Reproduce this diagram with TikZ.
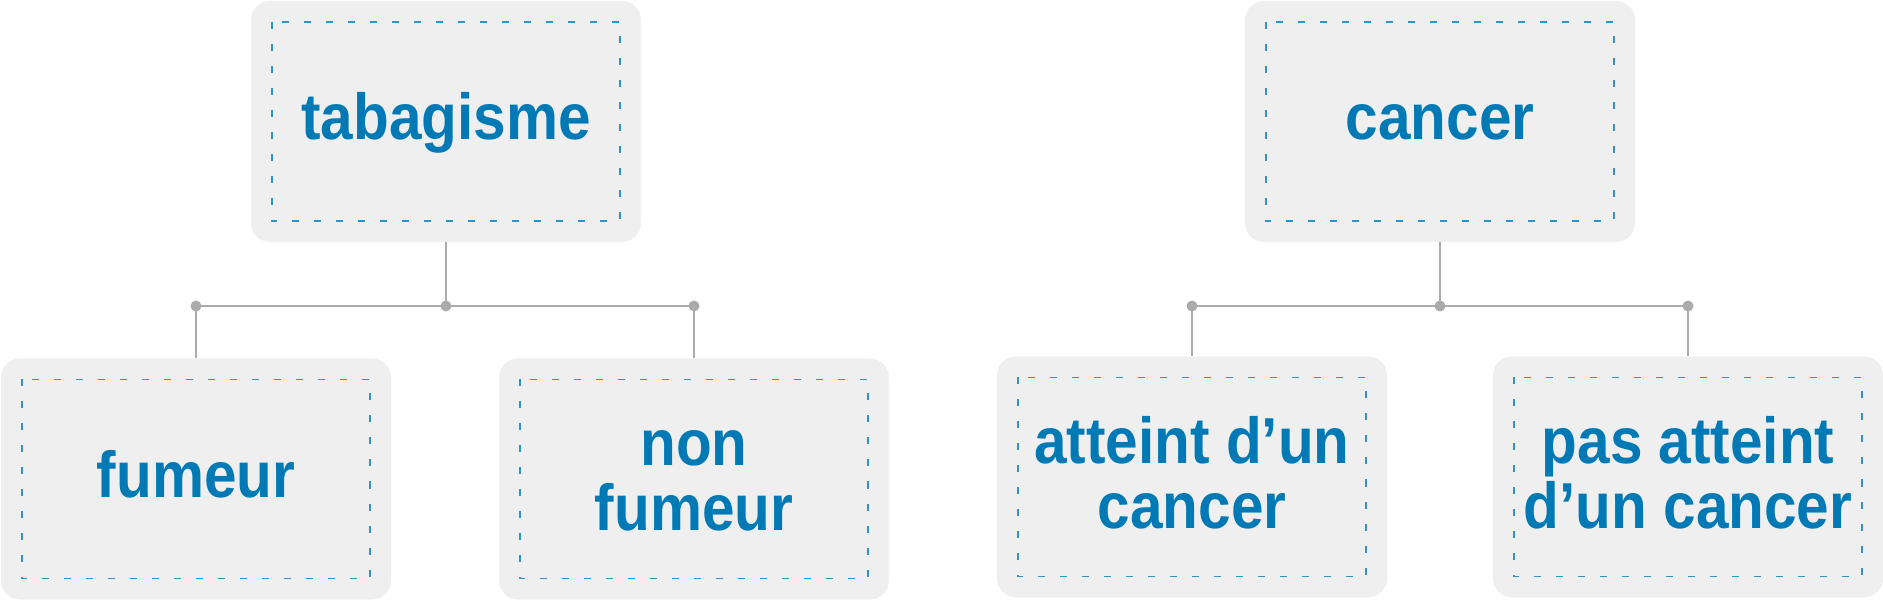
\documentclass[tikz,border=0pt]{standalone}
\usepackage{fontspec}
\newfontfamily\boxfont[FakeStretch=0.9]{Liberation Sans}
\definecolor{boxgray}{HTML}{EFEFEF}
\definecolor{txtblue}{HTML}{0079B4}
\definecolor{dashblue}{HTML}{2F93C8}
\definecolor{linegray}{HTML}{ABABAB}

\begin{document}
\begin{tikzpicture}[x=1pt,y=-1pt,
  box/.style={fill=boxgray,rounded corners=19pt,minimum width=390pt,minimum height=241pt,
    inner sep=0pt,font=\boxfont\bfseries\fontsize{65}{65}\selectfont,text=txtblue,
    align=center,text height=37pt,text depth=0pt},
  twoline/.style={text height=102pt,text depth=0pt},
  dashbox/.style={dashblue,line width=1.5pt,dash pattern=on 7pt off 15pt},
  link/.style={linegray,line width=2pt},
  dot/.style={fill=linegray}]
%\draw[step=100,gray,very thin] (0,0) grid (1883,601);
\useasboundingbox (0,0) rectangle (1883,601);

\node[box] (tab) at (446,121.5) {tabagisme};
\node[box] (fum) at (196,479) {fumeur};
\node[box,twoline] (non) at (694,479) {non\\fumeur};

\node[box] (can) at (1440,121.5) {cancer};
\node[box,twoline] (att) at (1192,477) {atteint d’un\\cancer};
\node[box,twoline] (pas) at (1688,477) {pas atteint\\d’un cancer};

\foreach \n in {tab,fum,non,can,att,pas}
  \draw[dashbox] ([shift={(21,21)}]\n.north west) rectangle ([shift={(-21,-21)}]\n.south east);

\coordinate (tabj) at (446,306);
\coordinate (fumj) at (fum |- tabj);
\coordinate (nonj) at (non |- tabj);
\coordinate (canj) at (1440,306);
\coordinate (attj) at (att |- canj);
\coordinate (pasj) at (pas |- canj);

\draw[link] (tab) -- (tabj);
\draw[link] (fumj) -- (nonj);
\draw[link] (fumj) -- (fum);
\draw[link] (nonj) -- (non);

\draw[link] (can) -- (canj);
\draw[link] (attj) -- (pasj);
\draw[link] (attj) -- (att);
\draw[link] (pasj) -- (pas);

\foreach \j in {tabj,fumj,nonj,canj,attj,pasj}
  \fill[dot] (\j) circle (5.5);

\end{tikzpicture}
\end{document}
